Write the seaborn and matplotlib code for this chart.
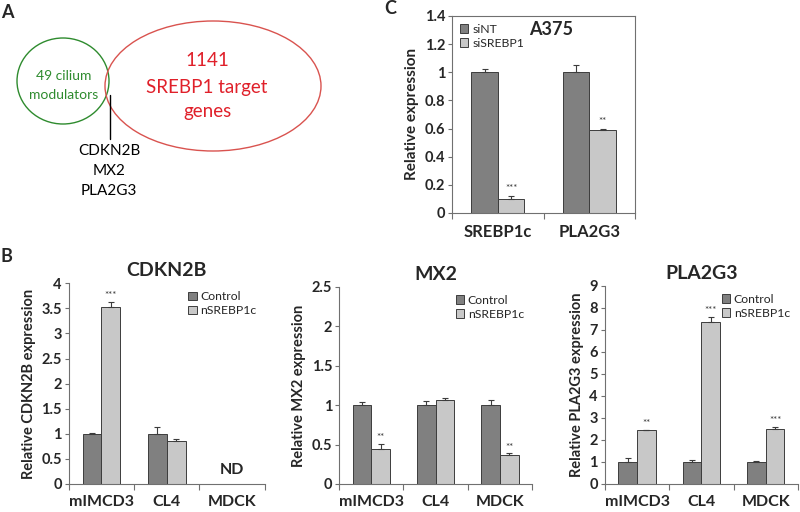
import numpy as np
import pandas as pd
import seaborn as sns
import matplotlib.pyplot as plt
from matplotlib.patches import Ellipse
from matplotlib.ticker import FuncFormatter

sns.set_theme(style='ticks')
plt.rcParams['font.family'] = ['Lato', 'DejaVu Sans']

# ---- data ----
cells = ['mIMCD3', 'CL4', 'MDCK']
groups_b = ['Control', 'nSREBP1c']

cdkn2b_ctrl = [1.0, 1.0, np.nan]
cdkn2b_treat = [3.53, 0.85, np.nan]
cdkn2b_ctrl_err = [0.02, 0.13, np.nan]
cdkn2b_treat_err = [0.10, 0.05, np.nan]
cdkn2b_stars = ['***', '', '']

mx2_ctrl = [1.0, 1.0, 1.0]
mx2_treat = [0.44, 1.06, 0.37]
mx2_ctrl_err = [0.04, 0.05, 0.06]
mx2_treat_err = [0.07, 0.03, 0.02]
mx2_stars = ['**', '', '**']

pla2g3_ctrl = [1.0, 1.0, 1.0]
pla2g3_treat = [2.45, 7.38, 2.48]
pla2g3_ctrl_err = [0.18, 0.08, 0.03]
pla2g3_treat_err = [0.02, 0.20, 0.12]
pla2g3_stars = ['**', '***', '***']

genes_c = ['SREBP1c', 'PLA2G3']
groups_c = ['siNT', 'siSREBP1']
a375_ctrl = [1.0, 1.0]
a375_treat = [0.10, 0.59]
a375_ctrl_err = [0.025, 0.05]
a375_treat_err = [0.02, 0.01]
a375_stars = ['***', '**']

overlap_genes = ['CDKN2B', 'MX2', 'PLA2G3']

dark = '#808080'
light = '#c8c8c8'
edge = '#3c3c3c'
spine_col = '#707070'


def bar_panel(ax, cats, hues, ctrl, treat, ctrl_err, treat_err, stars,
              ymax, ystep, star_pad, legend_loc):
    n = len(cats)
    df = pd.DataFrame({
        'cat': list(cats) * 2,
        'grp': [hues[0]] * n + [hues[1]] * n,
        'val': list(ctrl) + list(treat),
        'err': list(ctrl_err) + list(treat_err),
        'star': [''] * n + list(stars),
    }).dropna(subset=['val'])
    sns.barplot(data=df, x='cat', y='val', hue='grp', order=cats,
                hue_order=hues, palette=[dark, light], width=0.58,
                errorbar=None, edgecolor=edge, linewidth=0.7, ax=ax)
    # upward-only error bars and significance marks
    for cont, h in zip(ax.containers, hues):
        sub = df[df['grp'] == h]
        for bar, (_, row) in zip(cont, sub.iterrows()):
            x = bar.get_x() + bar.get_width() / 2
            top = bar.get_height()
            ax.errorbar(x, top, yerr=[[0], [row['err']]], fmt='none',
                        ecolor=edge, elinewidth=0.8, capsize=2.5,
                        capthick=0.8, zorder=3)
            if row['star']:
                ax.text(x, top + row['err'] + star_pad, row['star'],
                        ha='center', va='bottom', fontsize=7,
                        color='#333333')
    ax.set_xlim(-0.5, n - 0.5)
    ax.set_ylim(0, ymax)
    ax.set_yticks(np.arange(0, ymax + ystep / 2, ystep))
    ax.yaxis.set_major_formatter(FuncFormatter(lambda v, p: f'{v:g}'))
    ax.set_xticks(range(n))
    ax.set_xticks(np.arange(-0.5, n), minor=True)
    ax.tick_params(axis='x', which='major', length=0, pad=8,
                   labelsize=11.5)
    ax.tick_params(axis='x', which='minor', length=4, width=0.8,
                   direction='out', color=spine_col, bottom=True)
    ax.tick_params(axis='y', length=3, width=0.8, direction='out',
                   color=spine_col, labelsize=10.5, pad=2)
    for lab in ax.get_xticklabels() + ax.get_yticklabels():
        lab.set_fontweight('bold')
    ax.set_xlabel('')
    for s in ax.spines.values():
        s.set_color(spine_col)
        s.set_linewidth(0.8)
    ax.legend(loc=legend_loc, frameon=False, fontsize=8.8,
              handlelength=0.7, handleheight=0.7, handletextpad=0.3,
              labelspacing=0.25, borderaxespad=0.25)


fig = plt.figure(figsize=(8, 5.12), dpi=100)

# ---- panel A: Venn sketch in pixel coordinates ----
va = fig.add_axes([0, 0, 1, 1])
va.set_xlim(0, 800)
va.set_ylim(512, 0)
va.axis('off')
va.add_patch(Ellipse((63, 81), 92, 86, fill=False, ec='#2e8b2e', lw=1.0))
va.add_patch(Ellipse((213, 86), 216, 130, fill=False, ec='#d9534f', lw=1.0))
va.text(64, 76, '49 cilium', ha='center', va='center', fontsize=10,
        color='#2e8b2e')
va.text(64, 95, 'modulators', ha='center', va='center', fontsize=10,
        color='#2e8b2e')
va.text(207, 61, '1141', ha='center', va='center', fontsize=13.5,
        color='#e0202a')
va.text(207, 87, 'SREBP1 target', ha='center', va='center',
        fontsize=13.5, color='#e0202a')
va.text(207, 112, 'genes', ha='center', va='center', fontsize=13.5,
        color='#e0202a')
va.plot([110, 110], [95, 139], color='black', lw=1.0)
for i, g in enumerate(overlap_genes):
    va.text(109, 151 + 20 * i, g, ha='center', va='center', fontsize=11,
            color='black')

fig.text(7 / 800, 1 - 12 / 512, 'A', ha='center', va='center',
         fontsize=13, fontweight='bold')
fig.text(6 / 800, 1 - 257 / 512, 'B', ha='center', va='center',
         fontsize=13, fontweight='bold')
fig.text(390 / 800, 1 - 9 / 512, 'C', ha='center', va='center',
         fontsize=13, fontweight='bold')

# ---- panel C ----
axc = fig.add_axes([0.565, 0.584, 0.229, 0.385])
bar_panel(axc, genes_c, groups_c, a375_ctrl, a375_treat, a375_ctrl_err,
          a375_treat_err, a375_stars, 1.4, 0.2, 0.02, 'upper left')
axc.set_ylabel('Relative expression', fontsize=11, fontweight='bold')
axc.tick_params(axis='x', labelsize=12)
axc.text(0.54, 0.93, 'A375', transform=axc.transAxes, ha='center',
         va='center', fontsize=13, fontweight='bold')

# ---- panel B ----
axb1 = fig.add_axes([0.086, 0.0547, 0.245, 0.392])
bar_panel(axb1, cells, groups_b, cdkn2b_ctrl, cdkn2b_treat,
          cdkn2b_ctrl_err, cdkn2b_treat_err, cdkn2b_stars, 4, 0.5, 0.03,
          'upper right')
axb1.set_ylabel('Relative CDKN2B expression', fontsize=10.5,
                fontweight='bold')
axb1.set_title('CDKN2B', fontsize=14, fontweight='bold', pad=5)
axb1.text(2, 0.28, 'ND', ha='center', va='center', fontsize=11.5,
          fontweight='bold')

axb2 = fig.add_axes([0.424, 0.0547, 0.241, 0.385])
bar_panel(axb2, cells, groups_b, mx2_ctrl, mx2_treat, mx2_ctrl_err,
          mx2_treat_err, mx2_stars, 2.5, 0.5, 0.02, 'upper right')
axb2.set_ylabel('Relative MX2 expression', fontsize=10.5, fontweight='bold')
axb2.set_title('MX2', fontsize=14, fontweight='bold', pad=5)

axb3 = fig.add_axes([0.756, 0.0547, 0.2415, 0.387])
bar_panel(axb3, cells, groups_b, pla2g3_ctrl, pla2g3_treat,
          pla2g3_ctrl_err, pla2g3_treat_err, pla2g3_stars, 9, 1, 0.08,
          'upper right')
axb3.set_ylabel('Relative PLA2G3 expression', fontsize=10.5,
                fontweight='bold')
axb3.set_title('PLA2G3', fontsize=14, fontweight='bold', pad=5)

for ax in (axb1, axb2, axb3):
    sns.despine(ax=ax)

fig.savefig('out.png', dpi=100)
